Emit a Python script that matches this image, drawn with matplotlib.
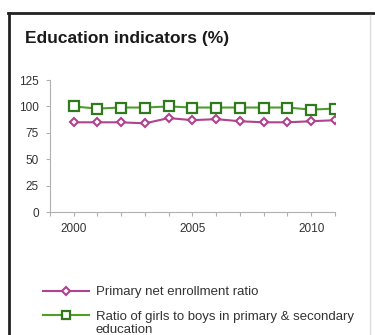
import matplotlib.pyplot as plt
from matplotlib.lines import Line2D

plt.rcParams['font.family'] = ['Liberation Sans', 'DejaVu Sans']

years = [2000, 2001, 2002, 2003, 2004, 2005, 2006, 2007, 2008, 2009, 2010, 2011]
enrollment = [85, 85, 85, 84, 89, 87, 88, 86, 85, 85, 86, 87]
girls_boys = [100, 98, 99, 99, 100, 99, 99, 99, 99, 99, 97, 98]
yticks = [0, 25, 50, 75, 100, 125]
xticks = [2000, 2005, 2010]

pink = '#b0428f'
green = '#4f9e2c'
axis_grey = '#b0b0b0'
text_col = '#333333'

fig = plt.figure(figsize=(3.75, 3.35), dpi=100)
ax = fig.add_axes([0.133, 0.367, 0.76, 0.394])

ax.plot(years, enrollment, color=pink, lw=1.5, marker='D', ms=4.5,
        mfc='white', mec=pink, mew=1.5, label='Primary net enrollment ratio')
ax.plot(years, girls_boys, color=green, lw=1.5, marker='s', ms=6.5,
        mfc='white', mec='#2f7a1c', mew=1.6,
        label='Ratio of girls to boys in primary & secondary')

ax.set_xlim(1999, 2011)
ax.set_ylim(0, 125)
ax.set_yticks(yticks)
ax.set_xticks(range(1999, 2012))
ax.set_xticklabels(['' if y not in xticks else str(y) for y in range(1999, 2012)])
for s in ['top', 'right']:
    ax.spines[s].set_visible(False)
for s in ['left', 'bottom']:
    ax.spines[s].set_color(axis_grey)
    ax.spines[s].set_linewidth(0.8)
ax.tick_params(direction='out', length=3, width=0.8, color=axis_grey,
               labelsize=8.5, labelcolor=text_col, pad=5)

fig.text(0.067, 0.885, 'Education indicators (%)', fontsize=12.5,
         fontweight='bold', color='#1a1a1a', va='center')

leg = fig.legend(loc='upper left', bbox_to_anchor=(0.1, 0.162), frameon=False,
                 fontsize=9.5, handlelength=3.5, labelspacing=0.95,
                 borderaxespad=0, handletextpad=0.5, labelcolor=text_col,
                 markerscale=0.85)

# second line of the long legend label, under its first line
fig.canvas.draw()
bb = leg.get_texts()[1].get_window_extent().transformed(fig.transFigure.inverted())
fig.text(bb.x0, bb.y0 - 0.004, 'education', fontsize=9.5, color=text_col,
         va='top', ha='left')

# frame around the panel
fig.add_artist(Line2D([0.022, 1.0], [0.962, 0.962], color='#222222', lw=2))
fig.add_artist(Line2D([0.025, 0.025], [0.0, 0.962], color='#222222', lw=2))
fig.add_artist(Line2D([0.987, 0.987], [0.0, 0.955], color='#dddddd', lw=1))

fig.savefig('out.png', dpi=100)
